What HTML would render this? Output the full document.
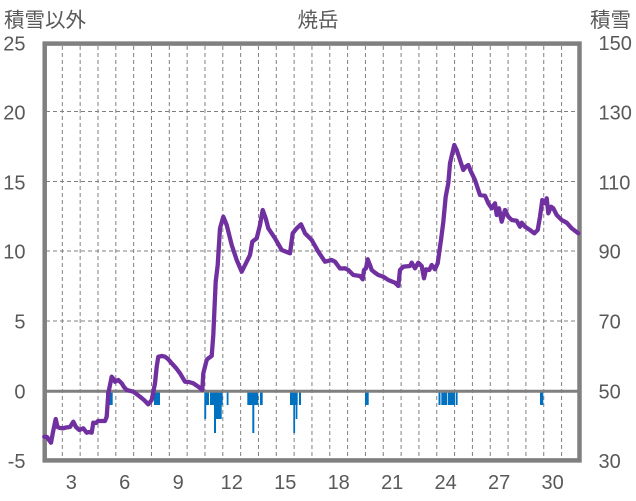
<!DOCTYPE html>
<html>
<head>
<meta charset="utf-8">
<style>
html,body{margin:0;padding:0;background:#fff;}
svg{display:block;}
.num{font-family:"Liberation Sans","Noto Sans CJK JP",sans-serif;font-size:20px;fill:#595959;}
.cjk{font-family:"Liberation Sans","Noto Sans CJK JP",sans-serif;font-size:20.5px;fill:#595959;}
</style>
</head>
<body>
<svg width="636" height="501" viewBox="0 0 636 501" xmlns="http://www.w3.org/2000/svg">
<rect x="0" y="0" width="636" height="501" fill="#fff"/>
<!-- vertical dashed gridlines -->
<g stroke="#808080" stroke-width="1" stroke-dasharray="4,3" fill="none">
<line x1="62.33" y1="46" x2="62.33" y2="458"/>
<line x1="80.16" y1="46" x2="80.16" y2="458"/>
<line x1="97.99" y1="46" x2="97.99" y2="458"/>
<line x1="115.82" y1="46" x2="115.82" y2="458"/>
<line x1="133.65" y1="46" x2="133.65" y2="458"/>
<line x1="151.48" y1="46" x2="151.48" y2="458"/>
<line x1="169.31" y1="46" x2="169.31" y2="458"/>
<line x1="187.14" y1="46" x2="187.14" y2="458"/>
<line x1="204.97" y1="46" x2="204.97" y2="458"/>
<line x1="222.8" y1="46" x2="222.8" y2="458"/>
<line x1="240.63" y1="46" x2="240.63" y2="458"/>
<line x1="258.46" y1="46" x2="258.46" y2="458"/>
<line x1="276.29" y1="46" x2="276.29" y2="458"/>
<line x1="294.12" y1="46" x2="294.12" y2="458"/>
<line x1="311.95" y1="46" x2="311.95" y2="458"/>
<line x1="329.78" y1="46" x2="329.78" y2="458"/>
<line x1="347.61" y1="46" x2="347.61" y2="458"/>
<line x1="365.44" y1="46" x2="365.44" y2="458"/>
<line x1="383.27" y1="46" x2="383.27" y2="458"/>
<line x1="401.1" y1="46" x2="401.1" y2="458"/>
<line x1="418.93" y1="46" x2="418.93" y2="458"/>
<line x1="436.76" y1="46" x2="436.76" y2="458"/>
<line x1="454.59" y1="46" x2="454.59" y2="458"/>
<line x1="472.42" y1="46" x2="472.42" y2="458"/>
<line x1="490.25" y1="46" x2="490.25" y2="458"/>
<line x1="508.08" y1="46" x2="508.08" y2="458"/>
<line x1="525.91" y1="46" x2="525.91" y2="458"/>
<line x1="543.74" y1="46" x2="543.74" y2="458"/>
<line x1="561.57" y1="46" x2="561.57" y2="458"/>
<!-- horizontal -->
<line x1="46" y1="111.5" x2="578" y2="111.5"/>
<line x1="46" y1="181.5" x2="578" y2="181.5"/>
<line x1="46" y1="251" x2="578" y2="251"/>
<line x1="46" y1="321" x2="578" y2="321"/>
</g>
<!-- bars -->
<g fill="#0070C0">
<rect x="106" y="392" width="6.7" height="13"/>
<rect x="154" y="392" width="6" height="13"/>
<rect x="204.3" y="392" width="1.9" height="27"/>
<rect x="206" y="392" width="3" height="13"/>
<rect x="210" y="392" width="12.7" height="13"/>
<rect x="214" y="392" width="2" height="41"/>
<rect x="216" y="392" width="5.7" height="27"/>
<rect x="226.7" y="392" width="1.8" height="13"/>
<rect x="247.3" y="392" width="11" height="13"/>
<rect x="252.3" y="392" width="2" height="41"/>
<rect x="260" y="392" width="2.7" height="13"/>
<rect x="290" y="392" width="7.7" height="13"/>
<rect x="293.3" y="392" width="1.8" height="41"/>
<rect x="295.7" y="392" width="1.7" height="27"/>
<rect x="299" y="392" width="2" height="13"/>
<rect x="365" y="392" width="3.7" height="13"/>
<rect x="438.5" y="392" width="2" height="13"/>
<rect x="441.3" y="392" width="6" height="13"/>
<rect x="448" y="392" width="7.3" height="13"/>
<rect x="456" y="392" width="1.6" height="13"/>
<rect x="540" y="392" width="3.3" height="13"/>
</g>
<!-- zero line -->
<line x1="45" y1="391.3" x2="579" y2="391.3" stroke="#808080" stroke-width="3"/>
<!-- frame -->
<rect x="44.7" y="43.6" width="534.8" height="416.8" fill="none" stroke="#808080" stroke-width="4.5"/>
<!-- purple line -->
<polyline fill="none" stroke="#7030A0" stroke-width="4.3" stroke-linejoin="round" stroke-linecap="round" points="
44.3,436.7 47,437 49,440 51,442.7 53,432 55.7,419 57.5,427 60,428 63,428.3 66,427.5 70,427 73.3,421.7 76,427 79.3,430 83.3,428.3 86.7,432.7 89,432 91.7,432.7 93.3,422.7 96,423 98,421 102,421 105,421 106.7,416.7 108.3,393.3 111.7,376.7 113.5,379 115,381.7 118.3,380 121.7,383.3 124,387 126.7,390 133.3,391.7 140,396.7 144,400 148.3,404.3 151.7,400 155,383.3 156.7,366.7 158.3,356.7 162,356 165,356.7 168,359 171.7,363.3 176,368 180,373.3 185,381.7 189,382 193.3,383.3 198.3,386.7 202.3,390 203.3,373.3 206.7,360 208.3,358.3 211.7,356 213.3,335 215.7,281.7 217.7,265 220,228.3 223.3,216.7 226.7,225 231.7,245 236.7,260 241.7,271.7 246.7,261.7 250,255 252.3,241.7 256.7,238.3 260,225 262.7,210 265.7,218.3 268.3,228.3 275,238.3 281.7,250 290,253.3 292.7,233.3 296.7,228.3 301,224.3 305,233.3 311.7,240 318.3,251.7 325,261.7 331.7,260 335,261.7 340,268.5 345,268.3 348.3,270 353.3,275 360,276 362.7,279.3 364,270 366,268.3 367.7,259.3 370,265 371.7,270 375,272.7 378.3,275 383.3,276.7 388.3,280 395,282.7 398.3,286 400,270 403.3,266.7 410,266 411.7,262.7 415,268.3 418.3,262.7 421.7,266 424,278.3 426,269.3 429.3,270 431.7,265 435,269.3 437.7,263.3 439.3,251.7 441,240 443.3,222 445.7,196.7 448.3,183.3 450,163.3 452.3,153.3 454.3,145 456.7,150 460,160 463.3,170 465.7,166.7 468.3,165 471,171.7 475,180 478.3,190 480,195 485,195.7 488.3,203.3 491.7,208.3 495,203.3 496.7,215 499,208.3 501.7,221.7 505,210 508.3,216.7 511.7,220 516.7,220.7 520,226.7 521.7,222.7 525,226.7 530,230 534.3,233.3 537.7,230 540,216.7 542.3,200 545,203.3 546.7,198.3 548.3,213.3 551,206.7 553.3,208.3 556.7,215 561.7,220 566.7,222.7 571.7,228.3 578.3,233.3"/>
<!-- left axis labels -->
<g class="num" text-anchor="end">
<text x="25.5" y="50.5">25</text>
<text x="25.5" y="119.5">20</text>
<text x="25.5" y="189.5">15</text>
<text x="25.5" y="258.5">10</text>
<text x="25.5" y="328.5">5</text>
<text x="25.5" y="398.5">0</text>
<text x="25.5" y="468">-5</text>
</g>
<!-- right axis labels -->
<g class="num" text-anchor="start">
<text x="598.5" y="50">150</text>
<text x="598.5" y="119.5">130</text>
<text x="598.5" y="189.5">110</text>
<text x="598.5" y="258.5">90</text>
<text x="598.5" y="328.5">70</text>
<text x="598.5" y="398.5">50</text>
<text x="598.5" y="468">30</text>
</g>
<!-- bottom labels -->
<g class="num" text-anchor="middle">
<text x="71.25" y="489">3</text>
<text x="124.74" y="489">6</text>
<text x="178.23" y="489">9</text>
<text x="231.72" y="489">12</text>
<text x="285.21" y="489">15</text>
<text x="338.7" y="489">18</text>
<text x="392.19" y="489">21</text>
<text x="445.68" y="489">24</text>
<text x="499.17" y="489">27</text>
<text x="552.66" y="489">30</text>
</g>
<!-- titles -->
<text class="cjk" x="4" y="27">積雪以外</text>
<text class="cjk" x="318" y="27" text-anchor="middle">焼岳</text>
<text class="cjk" x="590" y="27">積雪</text>
</svg>
</body>
</html>
